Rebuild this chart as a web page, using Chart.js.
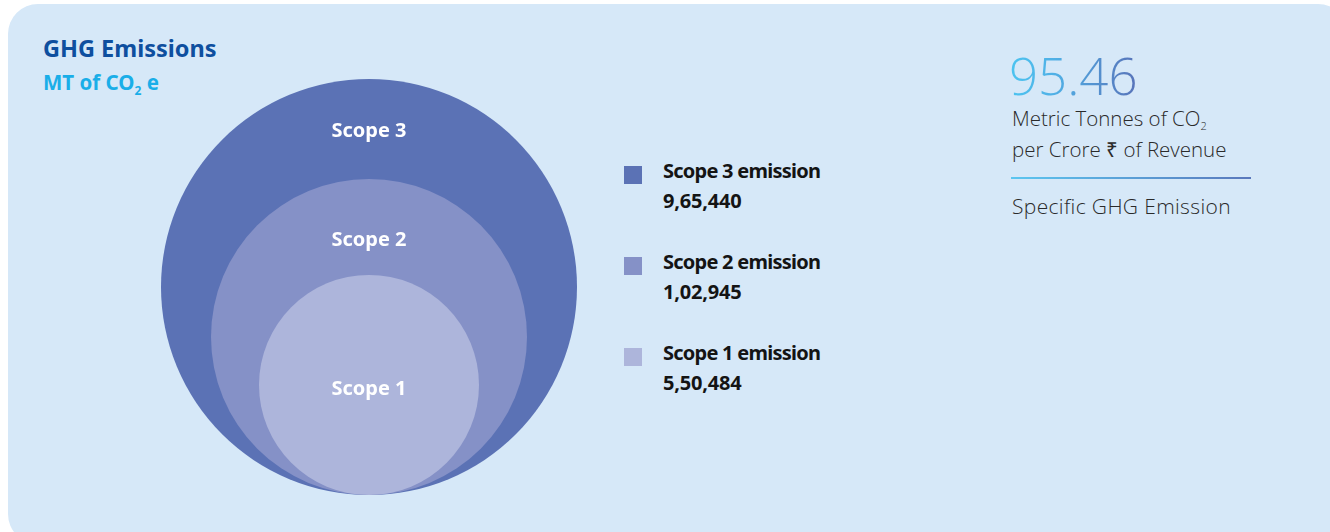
<!DOCTYPE html>
<html>
<head>
<meta charset="utf-8">
<script src="https://cdn.jsdelivr.net/npm/chart.js@4.4.1/dist/chart.umd.min.js"></script>
<style>
  html, body { margin: 0; padding: 0; background: #fff; }
  body { width: 1330px; height: 532px; position: relative; overflow: hidden; font-family: "Noto Sans", sans-serif; }
  .card { position: absolute; left: 8px; top: 4px; width: 1340px; height: 540px; background: #d6e8f8; border-radius: 30px; }
  .title { position: absolute; left: 43px; top: 32px; font-weight: 700; font-size: 23.5px; color: #0e4f9f; letter-spacing: 0px; }
  .unit { position: absolute; left: 43px; top: 68px; font-weight: 700; font-size: 20.5px; color: #1aaee8; letter-spacing: 0px; }
  .unit sub { font-size: 12px; vertical-align: -5px; }
  #wrap { position: absolute; left: 149px; top: 69px; width: 440px; height: 436px; }
  .legend { position: absolute; left: 624px; top: 0; }
  .item { position: absolute; left: 0; width: 260px; }
  .item .box { position: absolute; left: 0; width: 18px; height: 18px; }
  .item .txt { position: absolute; left: 39px; font-weight: 700; font-size: 20px; line-height: 30px; color: #141414; white-space: nowrap; }
  .item .lab { letter-spacing: -0.75px; }
  .item .val { letter-spacing: -0.2px; }
  .big { position: absolute; left: 1009px; top: 40px; font-family: "Open Sans", sans-serif; font-weight: 300; font-size: 51px; line-height: 70px;
         background: linear-gradient(90deg, #4cc4f0 0px, #50b0e6 45px, #5872b8 130px); -webkit-background-clip: text; background-clip: text; color: transparent; }
  .desc { position: absolute; left: 1012px; font-family: "Open Sans", sans-serif; font-weight: 300; font-size: 20.5px; color: #2a2a2a; white-space: nowrap; letter-spacing: 0px; }
  .desc sub { font-size: 11px; vertical-align: -4px; }
  .rule { position: absolute; left: 1011px; top: 177px; width: 240px; height: 2px; background: linear-gradient(90deg, #5cc6f0, #5a78bc); }
</style>
</head>
<body>
<div class="card"></div>
<div class="title">GHG Emissions</div>
<div class="unit">MT of CO<sub>2</sub> e</div>
<div id="wrap"><canvas id="myChart"></canvas></div>
<div class="legend" id="legend"></div>
<div class="big">95.46</div>
<div class="desc" style="top:104px">Metric Tonnes of CO<sub>2</sub></div>
<div class="desc" style="top:135px">per Crore ₹ of Revenue</div>
<div class="rule"></div>
<div class="desc" style="top:192px; font-size:21px; letter-spacing:0.35px">Specific GHG Emission</div>

<script>
// data
var scopes = ["Scope 3", "Scope 2", "Scope 1"];
var emissions = [965440, 102945, 550484];

// drawing: circle sizes are only visual (nested, touching at the bottom)
var circleSize = [208, 158, 110];
var labelAt = [364, 255, 106];
var colors = ["#5b72b5", "#8591c7", "#adb5db"];
var legendTop = [166, 257, 348];

// legend
var fmt = new Intl.NumberFormat("en-IN");
var legend = document.getElementById("legend");
scopes.forEach(function (s, i) {
  var it = document.createElement("div");
  it.className = "item";
  it.style.top = legendTop[i] + "px";
  it.innerHTML = '<div class="box" style="background:' + colors[i] + '"></div>' +
    '<div class="txt" style="top:-10px"><span class="lab">' + s + ' emission</span><br><span class="val">' +
    fmt.format(emissions[i]) + '</span></div>';
  legend.appendChild(it);
});

// bubble points: centre sits at y = size so every circle touches y = 0
function points(chart) {
  return scopes.map(function (s, i) {
    var r = 0;
    if (chart) {
      var y = chart.scales.y;
      r = y.getPixelForValue(0) - y.getPixelForValue(circleSize[i]);
    }
    return { x: 0, y: circleSize[i], r: r };
  });
}

var insideLabels = {
  id: "insideLabels",
  afterDatasetsDraw: function (chart) {
    var c = chart.ctx;
    var x = chart.scales.x.getPixelForValue(0);
    c.save();
    c.fillStyle = "#ffffff";
    c.font = "700 20px 'Noto Sans'";
    c.textAlign = "center";
    c.textBaseline = "middle";
    scopes.forEach(function (s, i) {
      c.fillText(s, x, chart.scales.y.getPixelForValue(labelAt[i]));
    });
    c.restore();
  }
};

const ctx = document.getElementById("myChart");
var myChart = new Chart(ctx, {
  type: "bubble",
  data: {
    labels: scopes,
    datasets: [{
      data: points(null),
      backgroundColor: colors,
      hoverBackgroundColor: colors,
      borderWidth: 0,
      hoverBorderWidth: 0,
      hoverRadius: 0,
      clip: false
    }]
  },
  options: {
    responsive: true,
    maintainAspectRatio: false,
    animation: false,
    events: [],
    layout: { padding: 10, autoPadding: false },
    scales: {
      x: { min: -1, max: 1, display: false },
      y: { min: 0, max: 416, display: false }
    },
    plugins: {
      legend: { display: false },
      tooltip: { enabled: false }
    }
  },
  plugins: [insideLabels]
});

// now the scales exist: size the bubbles from the y scale
myChart.data.datasets[0].data = points(myChart);
myChart.update();
</script>
</body>
</html>
